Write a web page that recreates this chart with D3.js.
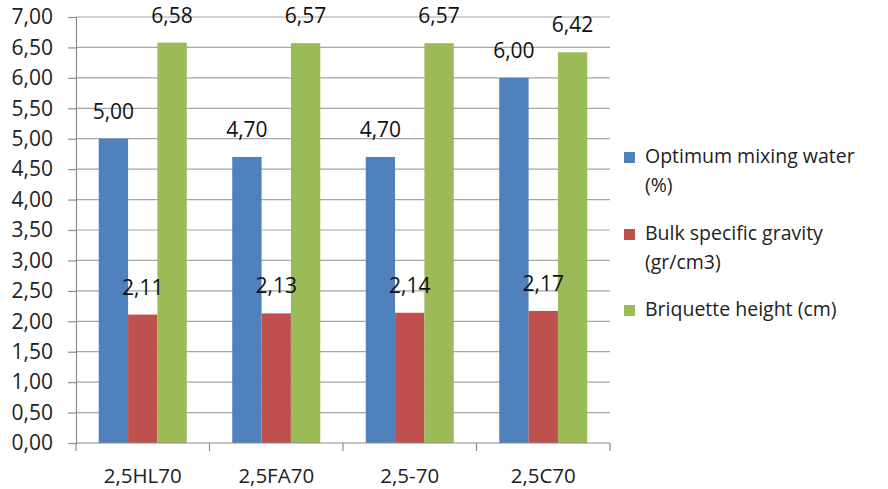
<html lang="en">
<head>
  <script src="https://d3js.org/d3.v7.min.js"></script>
  <style>
    body { margin: 0; background: white; }
    text { font-family: "Open Sans", "Noto Sans", sans-serif; }
  </style>
</head>
<body>
  <svg id="chart" width="888" height="489"></svg>
  <script>
    const categories = ["2,5HL70", "2,5FA70", "2,5-70", "2,5C70"];
    const seriesNames = [
      ["Optimum mixing water", "(%)"],
      ["Bulk specific gravity", "(gr/cm3)"],
      ["Briquette height (cm)"]
    ];
    const mixingWater = [5.00, 4.70, 4.70, 6.00];
    const specificGravity = [2.11, 2.13, 2.14, 2.17];
    const briquetteHeight = [6.58, 6.57, 6.57, 6.42];
    const yTicks = [0, 0.5, 1, 1.5, 2, 2.5, 3, 3.5, 4, 4.5, 5, 5.5, 6, 6.5, 7];
    const colors = ["#4F81BD", "#C0504D", "#9BBB59"];

    const series = [mixingWater, specificGravity, briquetteHeight];

    const svg = d3.select("#chart");
    const margin = { top: 17, right: 278, bottom: 46, left: 76 };
    const width = 888 - margin.left - margin.right;
    const height = 489 - margin.top - margin.bottom;

    const g = svg.append("g")
      .attr("transform", "translate(" + margin.left + "," + margin.top + ")");

    const x = d3.scaleBand().domain(categories).range([0, width]).paddingInner(0).paddingOuter(0);
    const y = d3.scaleLinear().domain([0, 7]).range([height, 0]);
    const xInner = d3.scaleBand().domain(d3.range(series.length))
      .range([0, x.bandwidth()]).paddingInner(0).paddingOuter(0.775);

    const fmt = v => v.toFixed(2).replace(".", ",");

    // gridlines
    g.selectAll(".grid")
      .data(yTicks.slice(1))
      .enter().append("line")
      .attr("x1", 0).attr("x2", width)
      .attr("y1", d => y(d)).attr("y2", d => y(d))
      .attr("stroke", "#a6a6a6").attr("stroke-width", 1.2);

    // y axis
    const yAxis = g.append("g")
      .call(d3.axisLeft(y).tickValues(yTicks).tickFormat(fmt).tickSize(8).tickPadding(15));
    yAxis.select(".domain").attr("stroke", "#8c8c8c").attr("stroke-width", 1.2);
    yAxis.selectAll(".tick line").attr("stroke", "#8c8c8c").attr("stroke-width", 1.2);
    yAxis.selectAll("text").attr("font-size", 21).attr("fill", "#222");

    // bars
    series.forEach((vals, si) => {
      g.selectAll(".bar" + si)
        .data(vals)
        .enter().append("rect")
        .attr("x", (d, i) => x(categories[i]) + xInner(si))
        .attr("width", xInner.bandwidth())
        .attr("y", d => y(d))
        .attr("height", d => height - y(d))
        .attr("fill", colors[si]);
    });

    // labels
    series.forEach((vals, si) => {
      g.selectAll(".lbl" + si)
        .data(vals)
        .enter().append("text")
        .attr("x", (d, i) => x(categories[i]) + xInner(si) + xInner.bandwidth() / 2)
        .attr("y", d => y(d) - 20)
        .attr("text-anchor", "middle")
        .attr("font-size", 21)
        .attr("fill", "#111")
        .text(fmt);
    });

    // x axis
    const xAxisG = g.append("g").attr("transform", "translate(0," + height + ")");
    xAxisG.append("line").attr("x1", 0).attr("x2", width)
      .attr("stroke", "#8c8c8c").attr("stroke-width", 1.2);
    const bounds = categories.map(c => x(c)).concat([width]);
    xAxisG.selectAll(".xt").data(bounds).enter().append("line")
      .attr("x1", d => d).attr("x2", d => d).attr("y1", 0).attr("y2", 8)
      .attr("stroke", "#8c8c8c").attr("stroke-width", 1.2);
    xAxisG.selectAll(".xl").data(categories).enter().append("text")
      .attr("x", d => x(d) + x.bandwidth() / 2)
      .attr("y", 40)
      .attr("text-anchor", "middle")
      .attr("font-size", 20.5)
      .attr("fill", "#222")
      .text(d => d);

    // legend
    const legendTop = [163, 240, 316];
    const legend = svg.append("g");
    seriesNames.forEach((lines, i) => {
      legend.append("rect")
        .attr("x", 624).attr("y", legendTop[i] - 11)
        .attr("width", 11).attr("height", 11)
        .attr("fill", colors[i]);
      lines.forEach((t, j) => {
        legend.append("text")
          .attr("x", 645).attr("y", legendTop[i] + j * 29)
          .attr("font-size", 19.5).attr("fill", "#222")
          .text(t);
      });
    });
  </script>
</body>
</html>
